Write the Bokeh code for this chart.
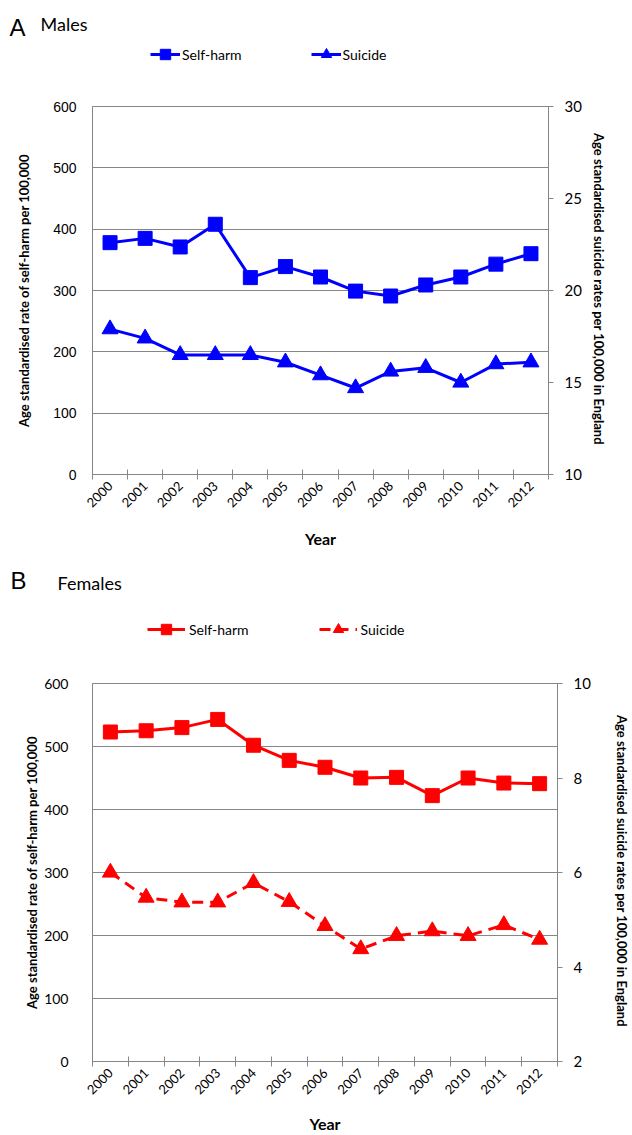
import math
from bokeh.plotting import figure
from bokeh.models import (Range1d, LinearAxis, FixedTicker, Label, Legend, LegendItem)
from bokeh.layouts import column
from bokeh.embed import file_html
from bokeh.resources import INLINE

# ---------------- data ----------------
years = [2000, 2001, 2002, 2003, 2004, 2005, 2006, 2007, 2008, 2009, 2010, 2011, 2012]
year_labels = ["2000", "2001", "2002", "2003", "2004", "2005", "2006",
               "2007", "2008", "2009", "2010", "2011", "2012"]

male_selfharm = [378, 385, 371, 408, 321, 339, 322, 299, 291, 309, 322, 343, 360]
male_suicide = [17.9, 17.4, 16.5, 16.5, 16.5, 16.1, 15.4, 14.7, 15.6, 15.8, 15.0, 16.0, 16.1]

female_selfharm = [523, 525, 530, 543, 502, 478, 467, 450, 451, 422, 450, 442, 441]
female_suicide = [6.0, 5.47, 5.37, 5.37, 5.78, 5.38, 4.87, 4.38, 4.66, 4.76, 4.66, 4.89, 4.58]

left_ticks = [0, 100, 200, 300, 400, 500, 600]
male_right_ticks = [10, 15, 20, 25, 30]
female_right_ticks = [2, 4, 6, 8, 10]

series_labels = ["Self-harm", "Suicide"]
left_title = "Age standardised rate of self-harm per 100,000"
right_title = "Age standardised  suicide rates per 100,000 in England"

GRAY = "#868686"
LBL_FONT = "Lato"
W = 632
LEG_H = 26


def make_header(letter, name, sh, su, color, dash, height, letter_xy, name_xy, legend_xy,
                glyph_w, lab_standoff, spacing):
    h = figure(width=W, height=height, output_backend="svg", toolbar_location=None,
               x_range=Range1d(0, W), y_range=Range1d(height, 0),
               x_axis_type=None, y_axis_type=None,
               min_border=0, min_border_left=0, min_border_right=0,
               min_border_top=0, min_border_bottom=0)
    h.outline_line_color = None
    h.background_fill_color = "white"
    h.border_fill_color = "white"
    h.add_layout(Label(x=letter_xy[0], y=letter_xy[1], text=letter,
                       text_font="Liberation Sans", text_font_size="24px",
                       text_color="black", text_baseline="alphabetic"))
    h.add_layout(Label(x=name_xy[0], y=name_xy[1], text=name,
                       text_font=LBL_FONT, text_font_size="18px",
                       text_color="black", text_baseline="alphabetic"))
    # legend samples: the series themselves, which fall outside this header's ranges
    l1 = h.line(years, sh, line_color=color, line_width=3)
    m1 = h.scatter(years, sh, marker="square", fill_color=color, line_color=color)
    l2 = h.line(years, su, line_color=color, line_width=3, line_dash=dash)
    m2 = h.scatter(years, su, marker="triangle", fill_color=color, line_color=color)
    # legend_xy = (left, vertical centre) measured from the header's top-left corner
    legend = Legend(items=[LegendItem(label=series_labels[0], renderers=[l1, m1]),
                           LegendItem(label=series_labels[1], renderers=[l2, m2])],
                    orientation="horizontal",
                    location=(legend_xy[0], height - legend_xy[1] - LEG_H / 2),
                    border_line_color=None, background_fill_alpha=0,
                    padding=0, margin=0, spacing=spacing,
                    glyph_width=glyph_w, glyph_height=LEG_H,
                    label_standoff=lab_standoff,
                    label_text_font=LBL_FONT, label_text_font_size="14px",
                    label_text_color="black")
    h.add_layout(legend, "center")
    return h


def make_chart(sh, su, color, right_range, right_ticks, dash, height,
               mb_top, mb_bottom, mb_right, left_tick_font, left_label_standoff,
               left_title_standoff, right_title_standoff, year_standoff):
    p = figure(width=W, height=height, output_backend="svg", toolbar_location=None,
               x_range=Range1d(years[0] - 0.5, years[-1] + 0.5),
               y_range=Range1d(0, 600),
               min_border_left=92, min_border_right=mb_right,
               min_border_top=mb_top, min_border_bottom=mb_bottom)
    p.background_fill_color = "white"
    p.border_fill_color = "white"
    p.outline_line_color = GRAY
    p.outline_line_width = 1
    p.xgrid.visible = False
    p.ygrid.grid_line_color = GRAY
    p.ygrid.grid_line_width = 1
    p.ygrid.ticker = FixedTicker(ticks=left_ticks)

    p.extra_y_ranges = {"right": Range1d(right_range[0], right_range[1])}

    # x axis
    xa = p.xaxis[0]
    xa.ticker = FixedTicker(ticks=years,
                            minor_ticks=[y - 0.5 for y in years] + [years[-1] + 0.5])
    xa.major_label_overrides = {y: l for y, l in zip(years, year_labels)}
    xa.major_tick_in = 0
    xa.major_tick_out = 0
    xa.minor_tick_in = 5
    xa.minor_tick_out = 5
    xa.minor_tick_line_color = GRAY
    xa.axis_line_color = GRAY
    xa.major_label_orientation = math.pi / 4
    xa.major_label_text_font = LBL_FONT
    xa.major_label_text_font_size = "13px"
    xa.major_label_text_color = "black"
    xa.major_label_standoff = 4
    xa.axis_label = "Year"
    xa.axis_label_text_font = LBL_FONT
    xa.axis_label_text_font_style = "bold"
    xa.axis_label_text_font_size = "16px"
    xa.axis_label_text_color = "black"
    xa.axis_label_standoff = year_standoff

    # left axis
    ya = p.yaxis[0]
    ya.ticker = FixedTicker(ticks=left_ticks)
    ya.major_tick_in = 0
    ya.major_tick_out = 0
    ya.minor_tick_line_color = None
    ya.axis_line_color = GRAY
    ya.major_label_text_font = left_tick_font
    ya.major_label_text_font_size = "14px"
    ya.major_label_text_color = "black"
    ya.major_label_standoff = left_label_standoff
    ya.axis_label = left_title
    ya.axis_label_text_font = LBL_FONT
    ya.axis_label_text_font_style = "bold"
    ya.axis_label_text_font_size = "13px"
    ya.axis_label_text_color = "black"
    ya.axis_label_standoff = left_title_standoff

    # right axis
    ra = LinearAxis(y_range_name="right", ticker=FixedTicker(ticks=right_ticks))
    ra.major_tick_in = 0
    ra.major_tick_out = 5
    ra.major_tick_line_color = GRAY
    ra.minor_tick_line_color = None
    ra.axis_line_color = GRAY
    ra.major_label_text_font = LBL_FONT
    ra.major_label_text_font_size = "15px"
    ra.major_label_text_color = "black"
    ra.major_label_standoff = 11
    ra.axis_label = right_title
    ra.axis_label_text_font = LBL_FONT
    ra.axis_label_text_font_style = "bold"
    ra.axis_label_text_font_size = "13px"
    ra.axis_label_text_color = "black"
    ra.axis_label_standoff = right_title_standoff
    p.add_layout(ra, "right")

    # series
    p.line(years, sh, line_color=color, line_width=3)
    p.scatter(years, sh, marker="square", size=14, fill_color=color, line_color=color)
    p.line(years, su, line_color=color, line_width=3, line_dash=dash, y_range_name="right")
    p.scatter(years, su, marker="triangle", size=16, fill_color=color,
              line_color=color, y_range_name="right")
    return p


head_a = make_header("A", "Males", male_selfharm, male_suicide, "#0000FF", "solid", height=90,
                     letter_xy=(9, 27), name_xy=(40, 23), legend_xy=(150, 54),
                     glyph_w=30, lab_standoff=2, spacing=69)
chart_a = make_chart(male_selfharm, male_suicide, "#0000FF", (10, 30), male_right_ticks,
                     "solid", height=470, mb_top=16, mb_bottom=86, mb_right=84,
                     left_tick_font="Liberation Sans", left_label_standoff=16,
                     left_title_standoff=18, right_title_standoff=6, year_standoff=14)

head_b = make_header("B", "Females", female_selfharm, female_suicide, "#FF0000", "11 7",
                     height=105, letter_xy=(10, 20), name_xy=(57, 22), legend_xy=(147, 69),
                     glyph_w=38, lab_standoff=4, spacing=70)
chart_b = make_chart(female_selfharm, female_suicide, "#FF0000", (2, 10), female_right_ticks,
                     "11 7", height=470, mb_top=18, mb_bottom=72, mb_right=70,
                     left_tick_font=LBL_FONT, left_label_standoff=24,
                     left_title_standoff=1, right_title_standoff=20, year_standoff=12)

layout = column(column(head_a), column(chart_a), column(head_b), column(chart_b), spacing=0)
open("out.html", "w").write(file_html(layout, INLINE))
